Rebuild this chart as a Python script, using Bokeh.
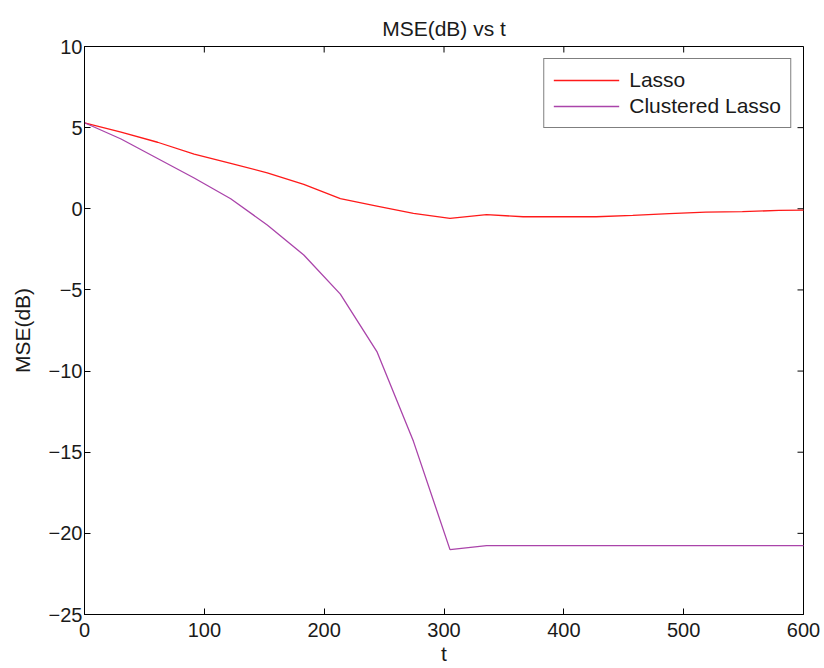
import math
from bokeh.plotting import figure
from bokeh.models import FixedTicker, Range1d, Legend, LegendItem
from bokeh.embed import file_html
from bokeh.resources import INLINE

# Data
t = [0, 30.5, 61, 91.5, 122, 152.5, 183, 213.5, 244, 274.5, 305, 335.5, 366,
     396.5, 427, 457.5, 488, 518.5, 549, 579.5, 610]
lasso = [5.30, 4.72, 4.10, 3.37, 2.80, 2.22, 1.50, 0.62, 0.17, -0.28, -0.59,
         -0.36, -0.49, -0.49, -0.49, -0.40, -0.30, -0.20, -0.18, -0.10, -0.08]
clustered = [5.30, 4.30, 3.10, 1.90, 0.62, -1.00, -2.85, -5.26, -8.80, -14.33,
             -21.00, -20.75, -20.75, -20.75, -20.75, -20.75, -20.75, -20.75,
             -20.75, -20.75, -20.75]
x_ticks = [0, 100, 200, 300, 400, 500, 600]
y_ticks = [-25, -20, -15, -10, -5, 0, 5, 10]
x_min, x_max = 0, 600
y_min, y_max = -25, 10

FONT = "Liberation Sans"

p = figure(width=824, height=668, output_backend="svg", toolbar_location=None,
           x_range=Range1d(x_min, x_max), y_range=Range1d(y_min, y_max),
           min_border_left=84, min_border_right=21, min_border_top=46,
           min_border_bottom=54, title="MSE(dB) vs t")
p.title.text_font = FONT
p.title.text_font_size = "21px"
p.title.text_font_style = "normal"
p.title.text_color = "#1a1a1a"
p.title.align = "center"
p.title.vertical_align = "top"
p.title.standoff = 10
p.grid.visible = False
p.outline_line_color = "black"
p.outline_line_width = 1
p.background_fill_color = "white"
p.border_fill_color = "white"

minus = lambda v: str(v).replace("-", "\u2212")

for ax in p.xaxis:
    ax.ticker = FixedTicker(ticks=x_ticks)
    ax.axis_label = "t"
    ax.major_label_standoff = 8
    ax.axis_label_standoff = 2
for ax in p.yaxis:
    ax.ticker = FixedTicker(ticks=y_ticks)
    ax.axis_label = "MSE(dB)"
    ax.major_label_overrides = {v: minus(v) for v in y_ticks}
    ax.major_label_standoff = 2
    ax.axis_label_standoff = 12

for ax in list(p.xaxis) + list(p.yaxis):
    ax.major_tick_in = 6
    ax.major_tick_out = 0
    ax.minor_tick_line_color = None
    ax.major_label_text_font = FONT
    ax.major_label_text_font_size = "20px"
    ax.major_label_text_color = "#1a1a1a"
    ax.axis_label_text_font = FONT
    ax.axis_label_text_font_size = "21px"
    ax.axis_label_text_font_style = "normal"
    ax.axis_label_text_color = "#1a1a1a"
    ax.axis_line_color = "black"
    ax.major_tick_line_color = "black"

# inward tick marks on the top and right edges (MATLAB box style)
p.ray(x=x_ticks, y=[y_max] * len(x_ticks), length=6, length_units="screen",
      angle=-math.pi / 2, line_color="black", line_width=1)
p.ray(x=[x_max] * len(y_ticks), y=y_ticks, length=6, length_units="screen",
      angle=math.pi, line_color="black", line_width=1)

r1 = p.line(t, lasso, line_color="#ff1a1a", line_width=1.3)
r2 = p.line(t, clustered, line_color="#aa44aa", line_width=1.3)

legend = Legend(items=[LegendItem(label="Lasso", renderers=[r1]),
                       LegendItem(label="Clustered Lasso", renderers=[r2])],
                location="top_right")
legend.margin = 12
legend.label_text_font = FONT
legend.label_text_font_size = "21px"
legend.label_text_color = "#1a1a1a"
legend.glyph_width = 66
legend.label_standoff = 10
legend.spacing = 2
legend.padding = 9
legend.border_line_color = "black"
legend.border_line_width = 1
legend.background_fill_alpha = 1
p.add_layout(legend)

open("out.html", "w").write(file_html(p, INLINE))
